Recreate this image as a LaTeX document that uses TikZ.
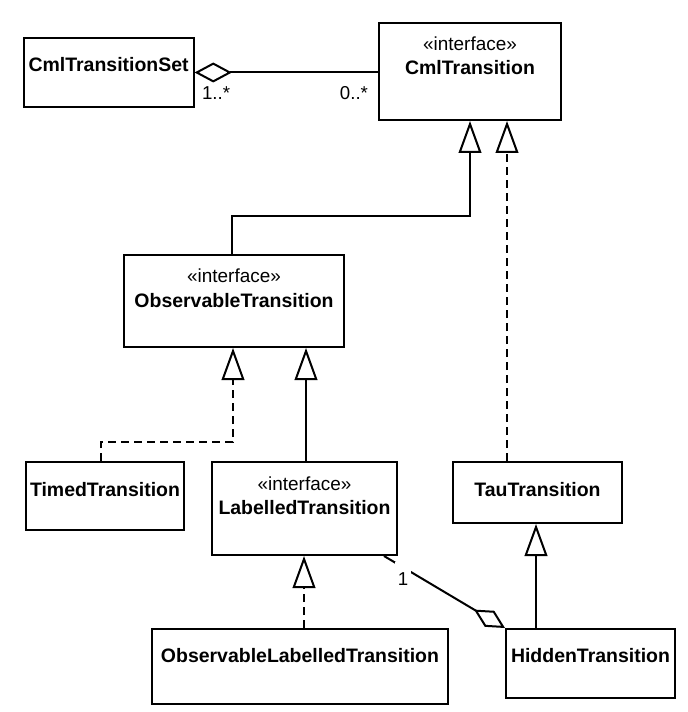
\documentclass[tikz,border=0pt]{standalone}
\usepackage{fontspec}
\setmainfont{Liberation Sans}
\usetikzlibrary{arrows.meta,calc}
\tikzset{every picture/.style={line width=1.5pt}}
\tikzset{
    classbox/.style={draw, rectangle, inner sep=0pt},
    classname/.style={anchor=base, inner sep=0.75pt, font=\fontsize{14.6}{17}\selectfont\bfseries},
    stereo/.style={anchor=base, inner sep=0.75pt, font=\fontsize{14.2}{17}\selectfont},
    mult/.style={inner sep=0.75pt, font=\fontsize{14}{17}\selectfont},
    gen/.style={-{Triangle[open,length=24pt,width=17pt]}},
    real/.style={gen, dash pattern=on 6pt off 3.75pt},
    aggr/.style={{Diamond[open,length=28pt,width=15pt]}-},
    aggrend/.style={-{Diamond[open,length=27pt,width=14pt]}}
}

\begin{document}
\begin{tikzpicture}[x=0.75pt,y=0.75pt,yscale=-1,xscale=1]
    \useasboundingbox (0,0) rectangle (687,712);

    %Shape: Rectangle
    \node[classbox, minimum width=127.5pt, minimum height=51.75pt] (set) at (108.6,72.5) {};
    %Shape: Rectangle
    \node[classbox, minimum width=136.5pt, minimum height=72.75pt] (cml) at (470,71.5) {};
    %Shape: Rectangle
    \node[classbox, minimum width=165pt, minimum height=69pt] (obs) at (234,301) {};
    %Shape: Rectangle
    \node[classbox, minimum width=118.5pt, minimum height=51pt] (timed) at (105,496) {};
    %Shape: Rectangle
    \node[classbox, minimum width=138.75pt, minimum height=69.75pt] (lbl) at (304.5,508.5) {};
    %Shape: Rectangle
    \node[classbox, minimum width=126.75pt, minimum height=45.75pt] (tau) at (537.5,492.5) {};
    %Shape: Rectangle
    \node[classbox, minimum width=222pt, minimum height=56.25pt] (obslbl) at (300,666.5) {};
    %Shape: Rectangle
    \node[classbox, minimum width=126.75pt, minimum height=51.75pt] (hid) at (590.5,663.5) {};

    %Straight Lines
    \draw[aggr] (set.east) -- (set.east -| cml.west);
    %Straight Lines
    \draw[gen] ([xshift=-1.5pt]obs.north) -- ++(0,-38) -| (cml.south);
    %Straight Lines
    \coordinate (cmltau) at ([xshift=27.75pt]cml.south);
    \draw[real] (tau.north -| cmltau) -- (cmltau);
    %Straight Lines
    \draw[real] ([xshift=-3pt]timed.north) -- ++(0,-19) -| ([xshift=-0.75pt]obs.south);
    %Straight Lines
    \draw[gen] ([xshift=1.125pt]lbl.north) -- ([xshift=1.125pt]lbl.north |- obs.south);
    %Straight Lines
    \draw[real] ([xshift=3pt]obslbl.north) -- ([xshift=3pt]obslbl.north |- lbl.south);
    %Straight Lines
    \draw[gen] ([xshift=-40.875pt]hid.north) -- ([xshift=-40.875pt]hid.north |- tau.south);
    %Straight Lines
    \draw[aggrend] ([xshift=-10.5pt]lbl.south east) -- (hid.north west);

    % Text Node
    \node[classname] (settxt) at ($(set.north)+(0,35)$) {CmlTransitionSet};
    % Text Node
    \node[stereo] (cmlst) at ($(cml.north)+(0,29)$) {«interface»};
    \node[classname] (cmltxt) at ($(cml.north)+(0,53)$) {CmlTransition};
    % Text Node
    \node[stereo] (obsst) at ($(obs.north)+(0,29)$) {«interface»};
    \node[classname] (obstxt) at ($(obs.north)+(0,53)$) {ObservableTransition};
    % Text Node
    \node[classname] (timedtxt) at ($(timed.north)+(0,35)$) {TimedTransition};
    % Text Node
    \node[stereo] (lblst) at ($(lbl.north)+(0,29)$) {«interface»};
    \node[classname] (lbltxt) at ($(lbl.north)+(0,53)$) {LabelledTransition};
    % Text Node
    \node[classname] (tautxt) at ($(tau.north)+(0,35)$) {TauTransition};
    % Text Node
    \node[classname] (obslbltxt) at ($(obslbl.north)+(0,34)$) {ObservableLabelledTransition};
    % Text Node
    \node[classname] (hidtxt) at ($(hid.north)+(0,34)$) {HiddenTransition};
    % Text Node
    \node[mult, anchor=base west] (setmult) at (200,100) {1..*};
    % Text Node
    \node[mult, anchor=base east] (cmlmult) at (370,100) {0..*};
    % Text Node
    \node[mult, anchor=base, fill=white, text height=15pt, inner xsep=2pt, inner ysep=2pt] (lblmult) at (403,585) {1};

\end{tikzpicture}
\end{document}
